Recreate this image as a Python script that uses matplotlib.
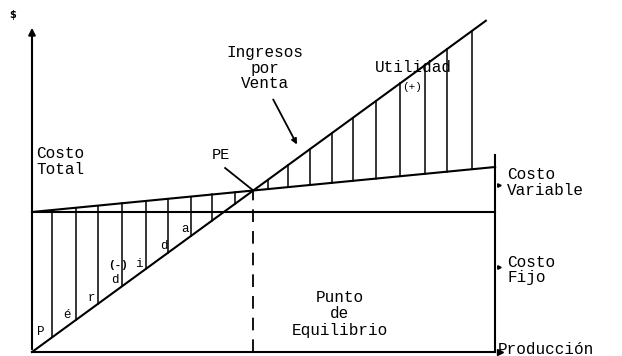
import numpy as np
import matplotlib.pyplot as plt

# datos del grafico de punto de equilibrio (unidades arbitrarias)
produccion = np.array([0, 100])
produccion_ventas = np.array([0, 98])
costo_fijo = 140
costo_var_unit = 0.45
precio_unit = 3.38

# posiciones de las lineas verticales (sombreado)
hatch_perdida = [4.3, 9.5, 14.3, 19.4, 24.6, 29.4, 34.3, 38.9, 43.9]
hatch_utilidad = [51.0, 55.3, 60.0, 64.8, 69.3, 74.3, 79.5, 84.9, 89.6, 95.0]

# letras de la zona de perdida
letras = ['P', 'é', 'r', 'd', 'i', 'd', 'a']
letras_x = [1.1, 6.7, 11.9, 17.1, 22.3, 27.6, 32.2]
letras_y = [20, 37, 54, 72, 88, 106, 123]

fuente = 'Liberation Mono'

fig = plt.figure(figsize=(6.22, 3.56), dpi=100)
ax = fig.add_axes([0, 0, 1, 1])
ax.set_xlim(-6.91, 127.4)
ax.set_ylim(-4, 352)
ax.axis('off')

costo_total = costo_fijo + costo_var_unit * produccion
ingresos = precio_unit * produccion_ventas
pe = costo_fijo / (precio_unit - costo_var_unit)

# lineas principales
ax.plot(produccion, [costo_fijo, costo_fijo], color='k', lw=1.5)
ax.plot(produccion, costo_total, color='k', lw=1.5)
ax.plot(produccion_ventas, ingresos, color='k', lw=1.5)

# sombreado vertical
for xh in hatch_perdida + hatch_utilidad:
    ct = costo_fijo + costo_var_unit * xh
    iv = precio_unit * xh
    ax.plot([xh, xh], [min(ct, iv), max(ct, iv)], color='k', lw=1.1)

# punto de equilibrio
ax.plot([pe, pe], [0, costo_fijo + costo_var_unit * pe], color='k', lw=1.3,
        linestyle=(0, (7, 5)))

# ejes
ax.annotate('', xy=(0, 327), xytext=(0, 0),
            arrowprops=dict(arrowstyle='-|>', color='k', lw=1.5, mutation_scale=10))
ax.plot([0, 100], [0, 0], color='k', lw=1.5)
ax.plot([100, 100], [0, costo_total[-1] + 12], color='k', lw=1.5)
ax.plot([101], [0], marker='>', color='k', markersize=4)
ax.plot([100.8, 100.8], [costo_total[-1] - 18, 85], marker='>', color='k',
        markersize=2.5, linestyle='none')

ax.text(-4.1, 337, '$', fontsize=7, fontweight='bold', ha='center', va='center')

# etiquetas
ax.text(0.9, 190.5, 'Costo\nTotal', family=fuente, fontsize=11.5,
        ha='left', va='center', linespacing=1.05)
ax.text(50.3, 284, 'Ingresos\npor\nVenta', family=fuente, fontsize=11.5,
        ha='center', va='center', multialignment='center', linespacing=1.05)
ax.annotate('', xy=(57.5, 205), xytext=(51.8, 255),
            arrowprops=dict(arrowstyle='-|>', color='k', lw=1.3, mutation_scale=8))
ax.text(38.9, 197, 'PE', family=fuente, fontsize=11, ha='left', va='center')
ax.plot([41.7, pe], [184, costo_fijo + costo_var_unit * pe], color='k', lw=1.3)
ax.text(74.1, 284, 'Utilidad', family=fuente, fontsize=11.5, ha='left', va='center')
ax.text(82, 265, '(+)', family=fuente, fontsize=8, ha='center', va='center')
ax.text(102.6, 169.5, 'Costo\nVariable', family=fuente, fontsize=11.5,
        ha='left', va='center', linespacing=1.05)
ax.text(102.6, 82, 'Costo\nFijo', family=fuente, fontsize=11.5,
        ha='left', va='center', linespacing=1.05)
ax.text(66.5, 38, 'Punto\nde\nEquilibrio', family=fuente, fontsize=11.5,
        ha='center', va='center', multialignment='center', linespacing=1.1)
ax.text(100.6, 3, 'Producción', family=fuente, fontsize=11.5, ha='left', va='center')

for l, lx, ly in zip(letras, letras_x, letras_y):
    ax.text(lx, ly, l, family=fuente, fontsize=9, ha='left', va='center')
ax.text(16.4, 87, '(-)', family=fuente, fontsize=8, fontweight='bold',
        ha='left', va='center')

fig.savefig('out.png', dpi=100)
